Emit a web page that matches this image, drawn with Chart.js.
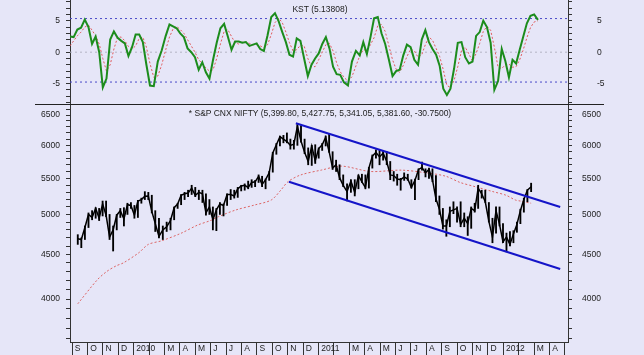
<!DOCTYPE html>
<html><head><meta charset="utf-8">
<script src="https://cdn.jsdelivr.net/npm/chart.js@4.4.1/dist/chart.umd.min.js"></script>
<style>
html,body{margin:0;padding:0;background:#e6e6f8;}
#wrap{position:relative;width:644px;height:355px;overflow:hidden;background:#e6e6f8;font-family:"Liberation Sans",Arial,sans-serif;}
canvas{position:absolute;left:0;}
#c1{top:0;width:644px;height:105px;}
#c2{top:105px;width:644px;height:250px;}
.t{position:absolute;font-size:8.5px;line-height:10px;color:#222;white-space:nowrap;transform:translateX(-50%);}
#sep{position:absolute;left:35px;top:104px;width:569px;height:1px;background:#222;}
</style></head>
<body><div id="wrap">
<canvas id="c1" width="644" height="105"></canvas>
<canvas id="c2" width="644" height="250"></canvas>
<div id="sep"></div>
<div class="t" style="left:320px;top:4px">KST (5.13808)</div>
<div class="t" style="left:320px;top:108px">* S&amp;P CNX NIFTY (5,399.80, 5,427.75, 5,341.05, 5,381.60, -30.7500)</div>
</div>
<script>
// ---------------- DATA ----------------
const weekStart = '2009-08-28';   // weekly samples (Fridays) through 2012-02-10
const weekCount = 129;
const axisStart = '2009-08-28';
const axisEnd = '2012-04-07';

const priceClose = [4690,4680,4830,5000,4960,5080,4950,5140,4990,4710,
4800,4990,5050,4940,5130,5120,4990,5180,5200,5245,
5250,5040,4880,4720,4800,4840,4920,5090,5140,5260,
5280,5290,5360,5260,5300,5280,5020,5100,4930,5060,
5140,5120,5270,5270,5250,5350,5390,5400,5370,5440,
5450,5530,5410,5480,5580,5880,6010,6140,6100,6060,
6000,6020,6310,6070,5890,5750,5990,5760,5950,6010,
6130,5900,5650,5700,5510,5400,5310,5460,5300,5540,
5450,5370,5650,5830,5890,5820,5880,5750,5550,5540,
5490,5480,5520,5490,5370,5470,5630,5660,5580,5630,
5480,5210,5070,4850,4850,5040,5060,5080,4870,4950,
4880,5080,5050,5360,5280,5170,4910,4710,5050,4870,
4650,4710,4620,4750,4870,5050,5200,5330,5380];
const priceHigh = [4740,4700,4850,5020,5050,5090,5080,5180,5180,5000,
4850,5000,5080,5090,5150,5160,5120,5190,5220,5310,
5300,5260,5050,4950,4850,4900,4950,5100,5150,5270,
5300,5330,5400,5370,5330,5330,5280,5200,5100,5080,
5160,5140,5280,5340,5330,5370,5400,5420,5460,5480,
5470,5550,5530,5490,5600,5890,6030,6150,6160,6200,
6100,6080,6340,6320,6100,5960,6000,6010,5960,6030,
6150,6180,5900,5770,5700,5550,5420,5480,5480,5550,
5560,5550,5660,5850,5930,5920,5910,5900,5750,5600,
5560,5500,5580,5560,5480,5490,5640,5740,5640,5650,
5640,5540,5250,5080,4930,5100,5170,5100,5170,5020,
4970,5100,5150,5400,5330,5330,5160,4950,5100,5100,
4880,4760,4780,4790,4900,5070,5220,5340,5430];
const priceLow = [4620,4580,4680,4830,4930,4950,4920,4980,4970,4680,
4540,4800,4960,4850,5000,5080,4950,4960,5150,5200,
5200,5020,4780,4700,4680,4780,4800,4930,5080,5130,
5200,5240,5270,5240,5200,5160,4990,5000,4800,4790,
5000,4980,5120,5200,5220,5230,5320,5330,5350,5370,
5380,5440,5380,5350,5470,5590,5860,5990,6040,6040,
5940,5940,6000,6050,5870,5700,5690,5720,5800,5920,
5990,5890,5630,5600,5480,5380,5180,5300,5250,5350,
5440,5350,5360,5650,5800,5700,5770,5700,5480,5460,
5400,5330,5470,5470,5360,5200,5480,5620,5520,5500,
5450,5170,5000,4810,4720,4840,5010,4900,4840,4840,
4730,4820,5030,5080,5220,5160,4900,4640,4760,4850,
4640,4530,4600,4640,4770,4880,5030,5170,5310];

const maDates = ['2009-08-28','2009-10-05','2009-10-24','2009-11-12','2009-11-26','2009-12-27',
'2010-01-15','2010-02-10','2010-03-19','2010-04-20','2010-05-16','2010-06-01','2010-07-05',
'2010-08-12','2010-09-14','2010-10-03','2010-10-17','2010-11-11','2010-12-23','2011-02-01',
'2011-03-28','2011-05-28','2011-07-19','2011-08-25','2011-09-22','2011-10-22','2011-11-26',
'2011-12-22','2012-01-10','2012-01-20','2012-02-10'];
const maValues = [3950,4206,4300,4366,4400,4520,4620,4665,4758,4860,4920,4970,5059,
5126,5194,5333,5450,5548,5622,5680,5600,5620,5578,5530,5440,5380,5310,5260,5194,5180,5150];

const channelUpperDates = ['2010-11-02','2012-04-07'];
const channelUpperValues = [6360,5100];
const channelLowerDates = ['2010-10-19','2012-04-07'];
const channelLowerValues = [5450,4330];

const kst = [2.5,2.4,3.6,3.9,5.2,4.0,1.3,2.5,0.0,-5.6,
-4.2,2.0,3.3,2.3,1.8,1.4,-0.6,0.8,2.8,2.8,
1.6,-2.0,-5.3,-5.4,-1.5,0.3,2.6,4.4,4.1,3.8,
3.0,2.4,0.6,0.0,-0.8,-2.8,-1.6,-3.2,-4.2,-1.2,
1.5,3.8,4.5,2.5,0.4,1.7,1.7,1.5,1.6,1.0,
1.2,1.4,0.5,0.2,2.7,5.6,6.2,4.9,3.2,1.6,
-0.4,-0.7,2.2,1.8,-1.0,-3.8,-2.0,-1.0,-0.2,1.3,
2.4,0.6,-2.3,-3.5,-3.6,-4.8,-5.3,-1.5,0.2,-0.5,
1.6,-0.3,2.4,5.4,5.6,3.0,1.3,-1.2,-3.8,-3.0,
-2.8,-0.5,1.2,0.8,-1.2,-2.0,2.0,3.5,1.6,0.5,
-0.4,-2.2,-5.8,-6.8,-5.8,-2.6,1.5,1.6,-0.8,-1.8,
-1.5,2.6,3.2,5.0,4.0,1.5,-6.0,-4.6,0.5,-1.4,
-4.0,-1.2,-1.8,0.4,2.5,4.6,5.8,6.0,5.14];
const kstSignal = [1.0,1.8,2.6,3.2,4.0,4.3,3.5,2.6,1.3,-1.0,
-3.0,-2.0,0.5,2.4,2.4,1.8,0.9,0.5,1.0,2.2,
2.4,0.8,-1.8,-4.0,-3.8,-2.0,0.4,2.4,3.7,4.1,
3.6,3.0,2.0,1.0,0.0,-1.2,-1.8,-2.5,-3.0,-2.8,
-1.0,1.3,3.3,3.6,2.5,1.5,1.3,1.6,1.6,1.4,
1.2,1.2,1.0,0.7,1.2,2.8,4.7,5.4,4.7,3.2,
1.5,0.2,0.4,1.1,1.0,-1.0,-2.3,-2.3,-1.2,0.0,
1.2,1.4,0.2,-1.7,-3.1,-4.0,-4.6,-3.9,-2.2,-0.6,
0.4,0.3,1.2,2.3,4.2,4.4,3.3,1.0,-1.2,-2.7,
-3.2,-2.1,-0.7,0.5,0.2,-0.8,-0.4,1.2,2.4,1.9,
0.6,-0.7,-2.8,-5.3,-5.6,-4.5,-2.3,0.2,0.8,-0.3,
-1.4,-0.2,1.4,3.3,4.1,3.5,0.8,-2.4,-2.6,-2.0,
-1.9,-2.4,-2.3,-1.2,0.4,2.3,3.9,4.8,5.0];
const kstBands = [5.35, -4.75];
const kstZero = 0;

const monthLabels = ['S','O','N','D','2010','','M','A','M','J','J','A',
'S','O','N','D','2011','','M','A','M','J','J','A',
'S','O','N','D','2012','','M','A'];
const priceTickLabels = [4000,4500,5000,5500,6000,6500];
const kstTickLabels = [-5,0,5];

// ---------------- HELPERS ----------------
function addDays(iso, n){ const d=new Date(iso+'T00:00:00Z'); d.setUTCDate(d.getUTCDate()+n); return d.toISOString().slice(0,10); }
function monthIndex(iso){ const [y,m,d]=iso.split('-').map(Number); const dim=new Date(Date.UTC(y,m,0)).getUTCDate(); return (y-2009)*12+(m-9)+(d-1)/dim; }
const weeks = Array.from({length: weekCount}, (_, i) => addDays(weekStart, 7*i));
const wx = weeks.map(monthIndex);
const xMin = monthIndex(axisStart), xMax = monthIndex(axisEnd);

Chart.defaults.font.family = '"Liberation Sans", Arial, sans-serif';
Chart.defaults.font.size = 8.5;
Chart.defaults.color = '#222';

const AX = '#333';
const lblFont = {size: 8.5};
function yAxis(pos, opts){
  return Object.assign({
    position: pos,
    afterFit: s => { s.width = pos==='left' ? 70 : 76; s.paddingTop = 0; s.paddingBottom = 0; },
    grid: {drawOnChartArea:false, drawTicks:true, tickLength:4, tickColor:AX, tickWidth:1},
    border: {display:true, color:AX, width:1},
    ticks: {autoSkip:false, font:lblFont, color:'#222', padding: pos==='left'?6:opts.rpad}
  }, opts.base);
}
const hline = (y, color, dash) => ({type:'line', data:[{x:xMin,y},{x:xMax,y}], borderColor:color, borderWidth:1, borderDash:dash, pointRadius:0});

// ---------------- KST PANEL ----------------
const kstMinorTicks = []; for (let v=-8; v<=8; v++) kstMinorTicks.push(v);
function kstY(pos, rpad){
  const a = yAxis(pos, {rpad, base:{type:'linear', min:-8.4, max:8.3}});
  a.afterBuildTicks = s => { s.ticks = kstMinorTicks.map(v=>({value:v})); };
  a.ticks.callback = v => kstTickLabels.includes(v) ? String(v) : '';
  return a;
}
new Chart(document.getElementById('c1'), {
  type:'line',
  data:{datasets:[
    {data: weeks.map((d,i)=>({x:wx[i], y:kst[i]})), borderColor:'#1c8c1c', borderWidth:2, pointRadius:0, tension:0},
    {data: weeks.map((d,i)=>({x:wx[i], y:kstSignal[i]})), borderColor:'#e05a5a', borderWidth:1, borderDash:[2,2], pointRadius:0, tension:0},
    hline(kstBands[0], '#4a4ac8', [2,3]),
    hline(kstBands[1], '#4a4ac8', [2,3]),
    hline(kstZero, '#b4b4c4', [2,3])
  ]},
  options:{
    responsive:false, animation:false, events:[],
    layout:{padding:0},
    plugins:{legend:{display:false}, tooltip:{enabled:false}},
    scales:{
      x:{type:'linear', min:xMin, max:xMax, display:false},
      y:kstY('left', 6),
      y2:kstY('right', 25)
    }
  }
});

// ---------------- PRICE PANEL ----------------
const priceMinorTicks = []; for (let v=3600; v<=6600; v+=100) priceMinorTicks.push(v);
function priceY(pos, rpad){
  const a = yAxis(pos, {rpad, base:{type:'logarithmic', min:3571, max:6674}});
  a.afterBuildTicks = s => { s.ticks = priceMinorTicks.map(v=>({value:v})); };
  a.ticks.callback = v => priceTickLabels.includes(v) ? String(v) : '';
  return a;
}
new Chart(document.getElementById('c2'), {
  type:'line',
  data:{datasets:[
    {data: channelUpperDates.map((d,i)=>({x:monthIndex(d), y:channelUpperValues[i]})), borderColor:'#1414c8', borderWidth:2, pointRadius:0},
    {data: channelLowerDates.map((d,i)=>({x:monthIndex(d), y:channelLowerValues[i]})), borderColor:'#1414c8', borderWidth:2, pointRadius:0},
    {data: weeks.map((d,i)=>({x:wx[i], y:priceClose[i]})), borderColor:'#000', borderWidth:1.5, pointRadius:0, tension:0},
    {type:'bar', data: weeks.map((d,i)=>({x:wx[i], y:[priceLow[i], priceHigh[i]]})), backgroundColor:'#000', borderWidth:0, barThickness:1.2},
    {data: maDates.map((d,i)=>({x:monthIndex(d), y:maValues[i]})), borderColor:'#dc6464', borderWidth:1, borderDash:[2,2], pointRadius:0, tension:0.3}
  ]},
  options:{
    responsive:false, animation:false, events:[],
    layout:{padding:0},
    plugins:{legend:{display:false}, tooltip:{enabled:false}},
    scales:{
      x:{type:'linear', min:xMin, max:xMax, position:'bottom',
        afterFit: s => { s.height = 13; s.paddingLeft = 0; s.paddingRight = 0; },
        afterBuildTicks: s => { s.ticks = monthLabels.map((l,i)=>({value:i})); },
        grid:{drawOnChartArea:false, drawTicks:true, tickLength:13, tickColor:AX, tickWidth:1},
        border:{display:true, color:AX, width:1},
        ticks:{autoSkip:false, maxRotation:0, minRotation:0, align:'start', labelOffset:-5, padding:-11, font:lblFont, color:'#222',
          callback: v => monthLabels[v] ?? ''}
      },
      y:priceY('left', 6),
      y2:priceY('right', 10)
    }
  }
});
</script>
</body></html>
